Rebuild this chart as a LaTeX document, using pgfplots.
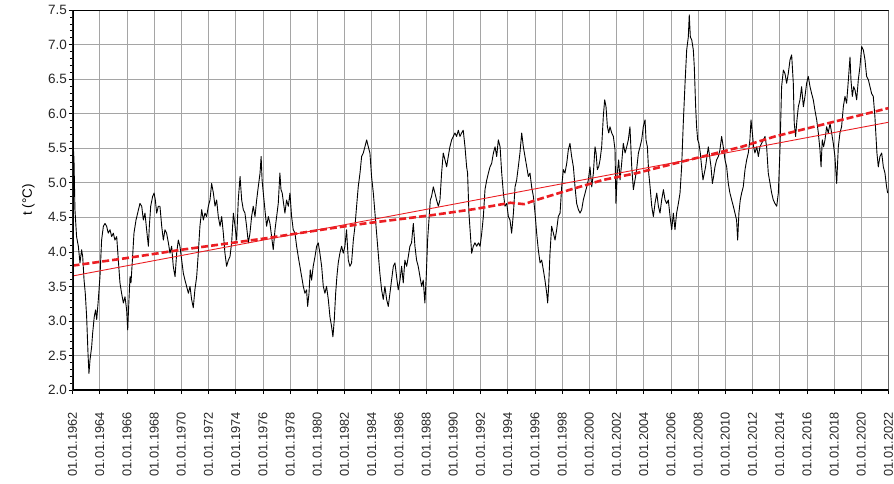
\documentclass[border=0pt]{standalone}
\usepackage{fontspec}
\setmainfont{Liberation Sans}
\usepackage{pgfplots}
\pgfplotsset{compat=1.18}
\usepackage{pgfplotstable}

\definecolor{trendred}{RGB}{235,30,35}
\definecolor{gridgray}{RGB}{165,165,165}

% running mean of air temperature
\pgfplotstableread{
year t
1962.00 5.28
1962.06 5.52
1962.11 5.33
1962.18 4.61
1962.30 4.22
1962.43 4.08
1962.55 3.84
1962.67 4.03
1962.75 3.93
1962.85 3.59
1962.94 3.40
1963.04 3.06
1963.14 2.53
1963.21 2.24
1963.29 2.44
1963.41 2.63
1963.48 2.82
1963.60 3.06
1963.70 3.16
1963.78 3.02
1963.90 3.31
1964.02 3.64
1964.14 4.17
1964.27 4.37
1964.39 4.41
1964.51 4.37
1964.63 4.27
1964.76 4.32
1964.88 4.22
1965.00 4.27
1965.12 4.17
1965.25 4.22
1965.37 3.88
1965.49 3.55
1965.61 3.40
1965.74 3.26
1965.86 3.35
1965.98 3.16
1966.06 2.87
1966.13 3.21
1966.23 3.64
1966.30 3.55
1966.42 3.93
1966.52 4.27
1966.67 4.46
1966.79 4.56
1966.96 4.70
1967.09 4.66
1967.21 4.46
1967.33 4.56
1967.45 4.32
1967.58 4.08
1967.65 4.37
1967.75 4.66
1967.89 4.80
1968.00 4.85
1968.09 4.75
1968.19 4.56
1968.31 4.66
1968.43 4.66
1968.56 4.37
1968.68 4.17
1968.80 4.32
1968.92 4.27
1969.05 4.13
1969.17 3.98
1969.29 4.08
1969.41 3.79
1969.54 3.64
1969.66 3.98
1969.78 4.17
1969.90 4.08
1970.03 3.88
1970.15 3.69
1970.27 3.59
1970.39 3.50
1970.52 3.40
1970.64 3.50
1970.76 3.31
1970.88 3.19
1971.00 3.45
1971.13 3.64
1971.25 3.98
1971.37 4.37
1971.50 4.61
1971.62 4.46
1971.74 4.56
1971.86 4.51
1971.99 4.66
1972.11 4.75
1972.23 4.99
1972.36 4.85
1972.48 4.66
1972.60 4.75
1972.72 4.51
1972.85 4.37
1972.97 4.51
1973.09 4.27
1973.21 3.98
1973.33 3.79
1973.46 3.88
1973.58 3.93
1973.70 4.13
1973.83 4.56
1973.95 4.37
1974.07 4.17
1974.19 4.75
1974.32 5.09
1974.44 4.75
1974.56 4.61
1974.68 4.56
1974.80 4.37
1974.93 4.13
1975.05 4.27
1975.17 4.51
1975.29 4.66
1975.42 4.51
1975.54 4.75
1975.66 4.94
1975.79 5.14
1975.87 5.38
1975.94 5.04
1976.03 4.85
1976.15 4.61
1976.27 4.37
1976.40 4.51
1976.52 4.41
1976.64 4.22
1976.76 4.03
1976.89 4.32
1977.01 4.51
1977.13 4.70
1977.25 5.14
1977.33 4.90
1977.42 4.85
1977.52 4.70
1977.62 4.56
1977.74 4.75
1977.87 4.66
1977.99 4.85
1978.11 4.51
1978.23 4.32
1978.36 4.27
1978.48 4.08
1978.60 3.93
1978.72 3.79
1978.85 3.64
1978.97 3.50
1979.09 3.40
1979.21 3.45
1979.29 3.21
1979.39 3.40
1979.48 3.74
1979.58 3.59
1979.70 3.79
1979.83 3.93
1979.95 4.08
1980.07 4.13
1980.19 3.98
1980.32 3.79
1980.44 3.50
1980.56 3.40
1980.68 3.50
1980.81 3.31
1980.93 3.06
1981.05 2.92
1981.15 2.77
1981.25 3.02
1981.35 3.40
1981.44 3.64
1981.54 3.84
1981.66 3.98
1981.79 4.08
1981.91 3.98
1982.03 4.08
1982.15 4.32
1982.28 3.88
1982.40 3.79
1982.52 3.84
1982.65 4.17
1982.77 4.37
1982.89 4.66
1983.01 4.94
1983.14 5.14
1983.26 5.38
1983.38 5.43
1983.50 5.52
1983.63 5.62
1983.75 5.52
1983.87 5.43
1983.99 5.09
1984.12 4.85
1984.24 4.56
1984.36 4.27
1984.48 3.98
1984.60 3.69
1984.73 3.45
1984.85 3.31
1984.97 3.50
1985.10 3.31
1985.22 3.21
1985.34 3.40
1985.46 3.59
1985.59 3.79
1985.71 3.84
1985.83 3.64
1985.95 3.45
1986.08 3.59
1986.20 3.79
1986.32 3.55
1986.44 3.88
1986.57 3.79
1986.69 3.93
1986.81 4.08
1986.93 4.13
1987.06 4.41
1987.18 4.08
1987.30 3.88
1987.42 3.79
1987.55 3.64
1987.67 3.50
1987.79 3.59
1987.91 3.26
1988.01 3.64
1988.11 4.17
1988.21 4.46
1988.31 4.75
1988.40 4.80
1988.53 4.94
1988.65 4.85
1988.77 4.75
1988.90 4.66
1989.02 4.75
1989.14 5.14
1989.26 5.43
1989.39 5.33
1989.51 5.23
1989.63 5.38
1989.75 5.52
1989.88 5.62
1990.00 5.67
1990.12 5.72
1990.24 5.67
1990.37 5.76
1990.49 5.67
1990.61 5.72
1990.73 5.76
1990.86 5.52
1990.98 5.23
1991.05 5.14
1991.15 4.56
1991.25 4.27
1991.35 3.98
1991.47 4.08
1991.59 4.13
1991.72 4.08
1991.85 4.13
1991.97 4.08
1992.09 4.27
1992.21 4.51
1992.33 4.90
1992.46 5.04
1992.58 5.14
1992.70 5.23
1992.82 5.28
1992.95 5.43
1993.07 5.52
1993.19 5.38
1993.31 5.62
1993.44 5.52
1993.56 5.14
1993.68 4.85
1993.80 4.66
1993.93 4.70
1994.05 4.51
1994.17 4.46
1994.29 4.27
1994.42 4.56
1994.54 4.94
1994.66 5.04
1994.78 5.23
1994.90 5.43
1995.03 5.72
1995.15 5.52
1995.27 5.38
1995.40 5.23
1995.52 5.09
1995.64 5.14
1995.76 4.94
1995.89 4.80
1996.01 4.56
1996.13 4.27
1996.25 4.03
1996.38 3.84
1996.50 3.88
1996.62 3.74
1996.74 3.59
1996.87 3.40
1996.94 3.26
1997.01 3.50
1997.11 3.98
1997.23 4.37
1997.36 4.27
1997.48 4.17
1997.60 4.32
1997.72 4.51
1997.85 4.56
1997.97 4.94
1998.09 5.19
1998.21 5.14
1998.34 5.28
1998.46 5.48
1998.58 5.57
1998.70 5.38
1998.83 5.23
1998.95 4.94
1999.07 4.70
1999.20 4.61
1999.32 4.56
1999.44 4.61
1999.56 4.75
1999.69 4.85
1999.81 4.94
1999.93 5.04
2000.05 5.23
2000.18 4.94
2000.30 5.14
2000.42 5.52
2000.50 5.43
2000.59 5.19
2000.69 5.23
2000.79 5.33
2000.91 5.52
2001.03 5.96
2001.13 6.20
2001.23 6.10
2001.33 5.81
2001.43 5.72
2001.52 5.81
2001.65 5.72
2001.77 5.67
2001.89 5.48
2001.96 4.70
2002.06 5.14
2002.16 5.33
2002.26 5.04
2002.38 5.28
2002.50 5.57
2002.63 5.43
2002.75 5.52
2002.87 5.62
2002.99 5.81
2003.12 5.23
2003.24 4.90
2003.36 5.04
2003.48 5.19
2003.61 5.43
2003.73 5.52
2003.85 5.62
2003.97 5.81
2004.10 5.91
2004.17 5.62
2004.27 5.52
2004.37 5.14
2004.47 4.94
2004.59 4.66
2004.71 4.51
2004.83 4.70
2004.96 4.85
2005.08 4.66
2005.20 4.56
2005.32 4.75
2005.45 4.90
2005.57 4.75
2005.69 4.70
2005.81 4.75
2005.94 4.51
2006.06 4.32
2006.18 4.56
2006.30 4.32
2006.42 4.56
2006.55 4.70
2006.67 4.85
2006.79 5.23
2006.91 5.86
2007.04 6.44
2007.16 6.92
2007.28 7.11
2007.35 7.43
2007.43 7.11
2007.53 7.07
2007.65 6.92
2007.72 6.68
2007.82 6.10
2007.89 5.81
2007.97 5.62
2008.06 5.57
2008.16 5.43
2008.26 5.23
2008.36 5.04
2008.46 5.14
2008.55 5.23
2008.65 5.38
2008.75 5.52
2008.85 5.38
2008.95 5.23
2009.05 4.99
2009.14 5.09
2009.24 5.23
2009.36 5.33
2009.49 5.38
2009.61 5.48
2009.73 5.67
2009.85 5.52
2009.98 5.33
2010.10 5.23
2010.22 4.99
2010.34 4.85
2010.47 4.75
2010.59 4.66
2010.71 4.56
2010.83 4.46
2010.91 4.17
2011.00 4.56
2011.10 4.75
2011.20 4.85
2011.32 4.94
2011.45 5.19
2011.57 5.33
2011.69 5.43
2011.81 5.62
2011.89 5.91
2011.99 5.72
2012.08 5.52
2012.18 5.43
2012.31 5.52
2012.43 5.38
2012.55 5.52
2012.67 5.57
2012.80 5.62
2012.92 5.67
2013.04 5.52
2013.16 5.14
2013.29 4.99
2013.41 4.85
2013.53 4.75
2013.65 4.70
2013.78 4.66
2013.90 4.85
2014.02 5.48
2014.14 6.39
2014.27 6.63
2014.39 6.58
2014.51 6.44
2014.63 6.58
2014.76 6.78
2014.88 6.85
2015.00 6.44
2015.07 5.86
2015.17 5.67
2015.27 5.91
2015.37 6.10
2015.49 6.20
2015.61 6.39
2015.74 6.10
2015.86 6.25
2015.98 6.44
2016.10 6.54
2016.23 6.39
2016.35 6.29
2016.47 6.20
2016.59 6.05
2016.72 5.91
2016.84 5.72
2016.96 5.48
2017.04 5.23
2017.13 5.62
2017.23 5.52
2017.33 5.62
2017.45 5.81
2017.57 5.72
2017.70 5.86
2017.82 5.72
2017.94 5.57
2018.06 5.38
2018.19 4.99
2018.31 5.52
2018.43 5.72
2018.55 5.81
2018.68 6.10
2018.80 6.25
2018.92 6.15
2019.05 6.49
2019.17 6.82
2019.24 6.49
2019.34 6.25
2019.44 6.39
2019.54 6.34
2019.66 6.20
2019.78 6.49
2019.90 6.68
2020.03 6.97
2020.15 6.92
2020.27 6.78
2020.39 6.54
2020.52 6.49
2020.64 6.39
2020.76 6.29
2020.88 6.25
2021.00 5.96
2021.08 5.67
2021.15 5.43
2021.25 5.23
2021.37 5.38
2021.50 5.43
2021.62 5.23
2021.74 5.14
2021.86 4.94
2021.94 4.85
}\tempdata

% smoothed trend
\pgfplotstableread{
year t
1962.0 3.80
1966.0 3.91
1970.0 4.03
1976.0 4.19
1981.0 4.34
1983.5 4.41
1988.4 4.53
1991.6 4.62
1994.2 4.71
1995.2 4.69
1996.1 4.75
1998.6 4.90
2001.0 5.04
2003.5 5.14
2006.5 5.29
2008.75 5.40
2011.2 5.52
2013.65 5.67
2016.1 5.79
2018.55 5.91
2021.0 6.03
2022.0 6.08
}\smoothtrend

% linear trend
\pgfplotstableread{
year t
1962 3.65
2022 5.875
}\lintrend

\begin{document}
\begin{tikzpicture}
\begin{axis}[
  at={(0pt,0pt)}, anchor=south west,
  scale only axis, width=816pt, height=380pt,
  xmin=1962, xmax=2022, ymin=2, ymax=7.5,
  xtick={1962,1964,...,2022},
  xticklabels={01.01.1962,01.01.1964,01.01.1966,01.01.1968,01.01.1970,01.01.1972,
    01.01.1974,01.01.1976,01.01.1978,01.01.1980,01.01.1982,01.01.1984,01.01.1986,
    01.01.1988,01.01.1990,01.01.1992,01.01.1994,01.01.1996,01.01.1998,01.01.2000,
    01.01.2002,01.01.2004,01.01.2006,01.01.2008,01.01.2010,01.01.2012,01.01.2014,
    01.01.2016,01.01.2018,01.01.2020,01.01.2022},
  ytick={2,2.5,...,7.5},
  minor x tick num=7, minor y tick num=4,
  grid=major,
  major grid style={gridgray, line width=0.7pt},
  tick align=outside, tick pos=left,
  major tick length=4pt, minor tick length=2.5pt,
  every tick/.style={black, line width=0.6pt},
  axis line style={draw=gray!80!black, line width=0.8pt},
  /pgf/number format/assume math mode=true,
  yticklabel style={/pgf/number format/fixed, /pgf/number format/fixed zerofill,
    /pgf/number format/precision=1, inner sep=1.5pt,
    font=\fontsize{13.5}{15}\selectfont},
  tick label style={text=black!85},
  xticklabel style={rotate=90, anchor=east, inner sep=0pt,
    font=\fontsize{12.8}{14}\selectfont},
  xticklabel shift=18pt,
  ylabel={t (°C)},
  ylabel style={at={(axis description cs:-0.054,0.5)}, anchor=center,
    font=\fontsize{13.5}{15}\selectfont},
]
\addplot[black, line width=0.9pt, line join=round] table[x=year, y=t] {\tempdata};
\addplot[trendred, line width=0.9pt] table[x=year, y=t] {\lintrend};
\addplot[trendred, line width=2.6pt, dash pattern=on 7pt off 3pt] table[x=year, y=t] {\smoothtrend};
% heavier left and bottom spines, dark top edge
\draw[black, line width=2.6pt] (rel axis cs:0,1) -- (rel axis cs:0,0) -- (rel axis cs:1,0);
\draw[black, line width=1.1pt] (rel axis cs:0,1) -- (rel axis cs:1,1);
\end{axis}
\pgfresetboundingbox
\path (-72.5pt,-93pt) rectangle (821.5pt,390pt);
\end{tikzpicture}
\end{document}
